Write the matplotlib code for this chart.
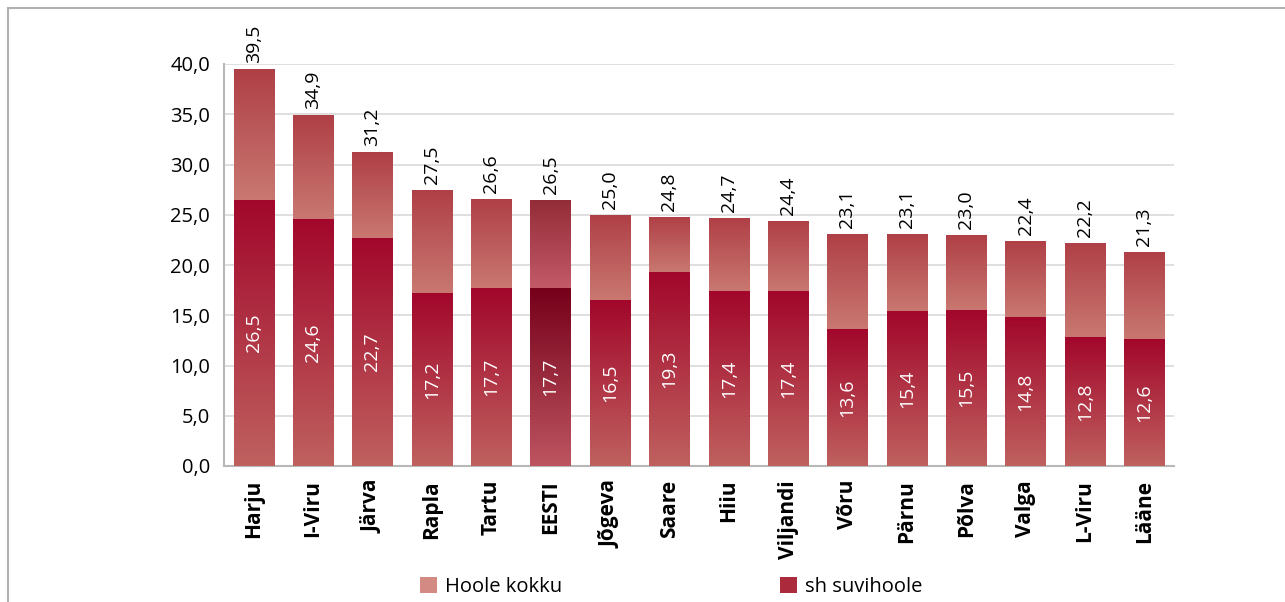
import matplotlib
matplotlib.use("Agg")
import matplotlib.pyplot as plt
import numpy as np
from matplotlib.colors import LinearSegmentedColormap
from matplotlib.patches import Rectangle

plt.rcParams['font.family'] = ['Open Sans', 'DejaVu Sans']

categories = ["Harju", "I-Viru", "Järva", "Rapla", "Tartu", "EESTI", "Jõgeva", "Saare",
              "Hiiu", "Viljandi", "Võru", "Pärnu", "Põlva", "Valga", "L-Viru", "Lääne"]
hoole_kokku = [39.5, 34.9, 31.2, 27.5, 26.6, 26.5, 25.0, 24.8, 24.7, 24.4, 23.1, 23.1, 23.0, 22.4, 22.2, 21.3]
suvihoole = [26.5, 24.6, 22.7, 17.2, 17.7, 17.7, 16.5, 19.3, 17.4, 17.4, 13.6, 15.4, 15.5, 14.8, 12.8, 12.6]
yticks = [0, 5, 10, 15, 20, 25, 30, 35, 40]
highlight = "EESTI"

def fmt(v):
    return f"{v:.1f}".replace(".", ",")

W, H = 1285, 602
fig = plt.figure(figsize=(W / 100, H / 100), dpi=100)
ax = fig.add_axes([224 / W, 1 - 466 / H, 950 / W, 402 / H])

# outer frame
fig.patches.append(Rectangle((8 / W, -0.1), 1.2, (1 - 8 / H) + 0.1, transform=fig.transFigure,
                             fill=False, edgecolor="#b0b0b0", linewidth=1.5, zorder=0))

cm_tot = LinearSegmentedColormap.from_list("tot", ["#c97871", "#af3f46"])
cm_suv = LinearSegmentedColormap.from_list("suv", ["#bf615f", "#a2072b"])
cm_tot_h = LinearSegmentedColormap.from_list("toth", ["#c25a68", "#922c36"])
cm_suv_h = LinearSegmentedColormap.from_list("suvh", ["#bd5560", "#76001a"])

grad = np.linspace(0, 1, 256).reshape(-1, 1)
x = np.arange(len(categories))
bw = 0.68

def grad_bar(xc, y0, y1, cmap, z):
    bars = ax.bar([xc], [y1 - y0], bottom=[y0], width=bw, color="none", edgecolor="none", zorder=z)
    p = bars[0]
    im = ax.imshow(grad, extent=[xc - bw / 2, xc + bw / 2, y0, y1], origin="lower",
                   aspect="auto", cmap=cmap, zorder=z, interpolation="bilinear")
    im.set_clip_path(p)

for i, (c, t, s) in enumerate(zip(categories, hoole_kokku, suvihoole)):
    hl = c == highlight
    grad_bar(x[i], s, t, cm_tot_h if hl else cm_tot, 2)
    grad_bar(x[i], 0, s, cm_suv_h if hl else cm_suv, 3)
    ax.text(x[i], t + 0.6, fmt(t), rotation=90, ha="center", va="bottom",
            fontsize=14, color="black", zorder=5, clip_on=False)
    ax.text(x[i], s / 2, fmt(s), rotation=90, ha="center", va="center",
            fontsize=14, color="white", zorder=5)

ax.set_xlim(-0.5, len(categories) - 0.5)
ax.set_ylim(0, 40)
ax.set_yticks(yticks)
ax.set_yticklabels([fmt(v) for v in yticks], fontsize=14.5)
ax.set_xticks(x)
ax.set_xticklabels(categories, rotation=90, fontsize=15, fontweight="bold")
ax.tick_params(axis="both", length=0)
ax.tick_params(axis="y", pad=10)
ax.tick_params(axis="x", pad=10)
ax.grid(axis="y", color="#d9d9d9", linewidth=1.2, zorder=0)
ax.set_axisbelow(True)
for sp in ["top", "right"]:
    ax.spines[sp].set_visible(False)
for sp in ["left", "bottom"]:
    ax.spines[sp].set_color("#b8b8b8")
    ax.spines[sp].set_linewidth(1.5)

# legend
h1 = Rectangle((0, 0), 1, 1, facecolor="#d38a83", edgecolor="none")
h2 = Rectangle((0, 0), 1, 1, facecolor="#ab2a3c", edgecolor="none")
fig.legend([h1, h2], ["Hoole kokku", "sh suvihoole"], loc="center left",
           bbox_to_anchor=(420 / W, 1 - 587 / H), ncol=2, frameon=False,
           fontsize=14.5, handlelength=0.85, handleheight=0.85, handletextpad=0.4,
           columnspacing=10.8, borderaxespad=0, borderpad=0)

fig.savefig("out.png", dpi=100)
